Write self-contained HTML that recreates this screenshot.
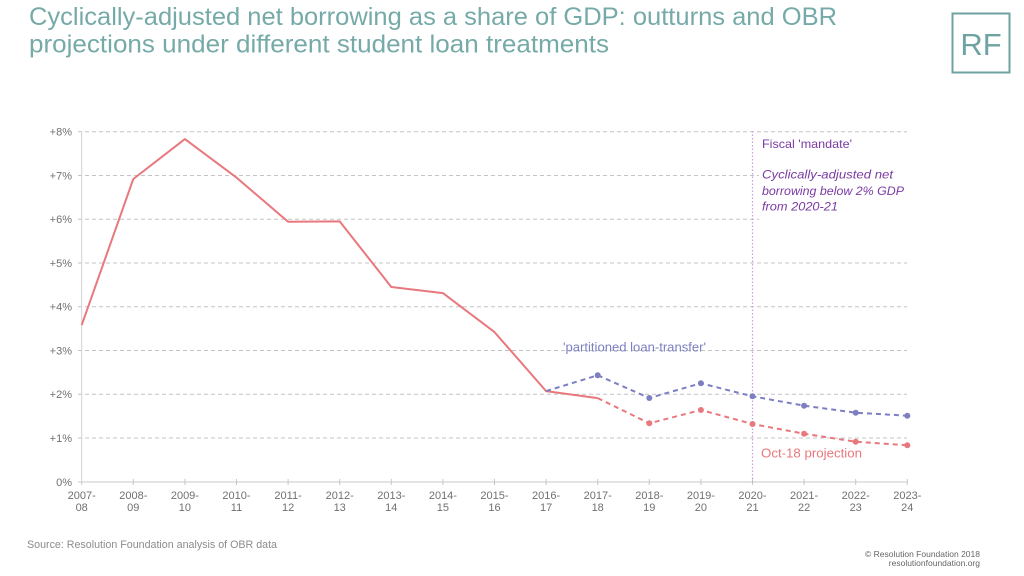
<!DOCTYPE html>
<html>
<head>
<meta charset="utf-8">
<style>
html,body{margin:0;padding:0;background:#fff;}
svg{display:block;}
text{font-family:"Liberation Sans",sans-serif;}
</style>
</head>
<body>
<svg width="1024" height="576" viewBox="0 0 1024 576" xmlns="http://www.w3.org/2000/svg">
<rect width="1024" height="576" fill="#fff"/>

<!-- Title -->
<text x="29" y="25" font-size="25" fill="#76aaa9" textLength="808" lengthAdjust="spacingAndGlyphs">Cyclically-adjusted net borrowing as a share of GDP: outturns and OBR</text>
<text x="29" y="52.5" font-size="25" fill="#76aaa9" textLength="580" lengthAdjust="spacingAndGlyphs">projections under different student loan treatments</text>

<!-- RF logo -->
<rect x="952.5" y="13.5" width="57" height="59" fill="none" stroke="#6ea3a2" stroke-width="2"/>
<text x="981" y="55" font-size="31" fill="#6ea3a2" text-anchor="middle">RF</text>

<!-- Gridlines -->
<g stroke="#c4c4c4" stroke-width="1" stroke-dasharray="4,3">
<line x1="78" y1="131.7" x2="907" y2="131.7"/>
<line x1="78" y1="175.5" x2="907" y2="175.5"/>
<line x1="78" y1="219.2" x2="907" y2="219.2"/>
<line x1="78" y1="263" x2="907" y2="263"/>
<line x1="78" y1="306.7" x2="907" y2="306.7"/>
<line x1="78" y1="350.5" x2="907" y2="350.5"/>
<line x1="78" y1="394.2" x2="907" y2="394.2"/>
<line x1="78" y1="438" x2="907" y2="438"/>
</g>

<!-- white box behind annotation -->
<rect x="759" y="137" width="150" height="88" fill="#fff"/>

<!-- Axes -->
<line x1="81.7" y1="131.7" x2="81.7" y2="482" stroke="#d0d0d0" stroke-width="1"/>
<line x1="78" y1="482" x2="907.3" y2="482" stroke="#c8c8c8" stroke-width="1"/>
<g stroke="#c8c8c8" stroke-width="1">
<line x1="81.7" y1="482" x2="81.7" y2="485"/>
<line x1="133.3" y1="479" x2="133.3" y2="485"/>
<line x1="184.9" y1="479" x2="184.9" y2="485"/>
<line x1="236.5" y1="479" x2="236.5" y2="485"/>
<line x1="288.1" y1="479" x2="288.1" y2="485"/>
<line x1="339.7" y1="479" x2="339.7" y2="485"/>
<line x1="391.3" y1="479" x2="391.3" y2="485"/>
<line x1="442.9" y1="479" x2="442.9" y2="485"/>
<line x1="494.5" y1="479" x2="494.5" y2="485"/>
<line x1="546.1" y1="479" x2="546.1" y2="485"/>
<line x1="597.7" y1="479" x2="597.7" y2="485"/>
<line x1="649.3" y1="479" x2="649.3" y2="485"/>
<line x1="700.9" y1="479" x2="700.9" y2="485"/>
<line x1="752.5" y1="479" x2="752.5" y2="485"/>
<line x1="804.1" y1="479" x2="804.1" y2="485"/>
<line x1="855.7" y1="479" x2="855.7" y2="485"/>
<line x1="907.3" y1="479" x2="907.3" y2="485"/>
</g>

<!-- Y labels -->
<g font-size="11" fill="#707070" text-anchor="end">
<text x="72" y="135.5">+8%</text>
<text x="72" y="179.3">+7%</text>
<text x="72" y="223">+6%</text>
<text x="72" y="266.8">+5%</text>
<text x="72" y="310.5">+4%</text>
<text x="72" y="354.3">+3%</text>
<text x="72" y="398">+2%</text>
<text x="72" y="441.8">+1%</text>
<text x="72" y="485.8">0%</text>
</g>

<!-- X labels -->
<g font-size="11" fill="#707070" text-anchor="middle">
<text x="81.7" y="499">2007-</text><text x="81.7" y="511">08</text>
<text x="133.3" y="499">2008-</text><text x="133.3" y="511">09</text>
<text x="184.9" y="499">2009-</text><text x="184.9" y="511">10</text>
<text x="236.5" y="499">2010-</text><text x="236.5" y="511">11</text>
<text x="288.1" y="499">2011-</text><text x="288.1" y="511">12</text>
<text x="339.7" y="499">2012-</text><text x="339.7" y="511">13</text>
<text x="391.3" y="499">2013-</text><text x="391.3" y="511">14</text>
<text x="442.9" y="499">2014-</text><text x="442.9" y="511">15</text>
<text x="494.5" y="499">2015-</text><text x="494.5" y="511">16</text>
<text x="546.1" y="499">2016-</text><text x="546.1" y="511">17</text>
<text x="597.7" y="499">2017-</text><text x="597.7" y="511">18</text>
<text x="649.3" y="499">2018-</text><text x="649.3" y="511">19</text>
<text x="700.9" y="499">2019-</text><text x="700.9" y="511">20</text>
<text x="752.5" y="499">2020-</text><text x="752.5" y="511">21</text>
<text x="804.1" y="499">2021-</text><text x="804.1" y="511">22</text>
<text x="855.7" y="499">2022-</text><text x="855.7" y="511">23</text>
<text x="907.3" y="499">2023-</text><text x="907.3" y="511">24</text>
</g>

<!-- Fiscal mandate vertical line -->
<line x1="752.5" y1="131" x2="752.5" y2="482" stroke="#c99be3" stroke-width="1.2" stroke-dasharray="1.5,2"/>

<!-- Red outturn -->
<polyline fill="none" stroke="#e8787d" stroke-width="2" stroke-linejoin="round"
points="81.7,325.1 133.3,179 184.9,139.1 236.5,177.6 288.1,221.8 339.7,221.4 391.3,287 442.9,293.1 494.5,332.1 546.1,391.1 597.7,398.1"/>

<!-- Red projection dashed -->
<polyline fill="none" stroke="#e8787d" stroke-width="2" stroke-dasharray="5,4"
points="597.7,398.1 649.3,423.3 700.9,410 752.5,424 804.1,433.7 855.7,441.7 907.3,445.3"/>
<g fill="#e8787d">
<circle cx="649.3" cy="423.3" r="3"/>
<circle cx="700.9" cy="410" r="3"/>
<circle cx="752.5" cy="424" r="3"/>
<circle cx="804.1" cy="433.7" r="3"/>
<circle cx="855.7" cy="441.7" r="3"/>
<circle cx="907.3" cy="445.3" r="3"/>
</g>

<!-- Blue dashed -->
<polyline fill="none" stroke="#7d7fc2" stroke-width="2" stroke-dasharray="5,4"
points="546.1,391.1 597.7,375.3 649.3,398 700.9,383.3 752.5,396.3 804.1,405.7 855.7,412.7 907.3,415.7"/>
<g fill="#7d7fc2">
<circle cx="597.7" cy="375.3" r="3"/>
<circle cx="649.3" cy="398" r="3"/>
<circle cx="700.9" cy="383.3" r="3"/>
<circle cx="752.5" cy="396.3" r="3"/>
<circle cx="804.1" cy="405.7" r="3"/>
<circle cx="855.7" cy="412.7" r="3"/>
<circle cx="907.3" cy="415.7" r="3"/>
</g>

<!-- Series labels -->
<text x="563" y="351.5" font-size="12.5" fill="#7d7fc2" textLength="143" lengthAdjust="spacingAndGlyphs">'partitioned loan-transfer'</text>
<text x="761" y="457.5" font-size="12.5" fill="#e8787d" textLength="101" lengthAdjust="spacingAndGlyphs">Oct-18 projection</text>

<!-- Annotation -->
<text x="762" y="148" font-size="12" fill="#7a3aa3" textLength="90" lengthAdjust="spacingAndGlyphs">Fiscal 'mandate'</text>
<text x="762" y="178.5" font-size="12" font-style="italic" fill="#7a3aa3" textLength="131" lengthAdjust="spacingAndGlyphs">Cyclically-adjusted net</text>
<text x="762" y="194.8" font-size="12" font-style="italic" fill="#7a3aa3" textLength="142" lengthAdjust="spacingAndGlyphs">borrowing below 2% GDP</text>
<text x="762" y="210.5" font-size="12" font-style="italic" fill="#7a3aa3" textLength="76" lengthAdjust="spacingAndGlyphs">from 2020-21</text>

<!-- Footer -->
<text x="27" y="548" font-size="11" fill="#8c8c8c" textLength="250" lengthAdjust="spacingAndGlyphs">Source: Resolution Foundation analysis of OBR data</text>
<text x="980" y="557" font-size="8.5" fill="#666" text-anchor="end">© Resolution Foundation 2018</text>
<text x="980" y="566" font-size="8.5" fill="#666" text-anchor="end">resolutionfoundation.org</text>
</svg>
</body>
</html>
